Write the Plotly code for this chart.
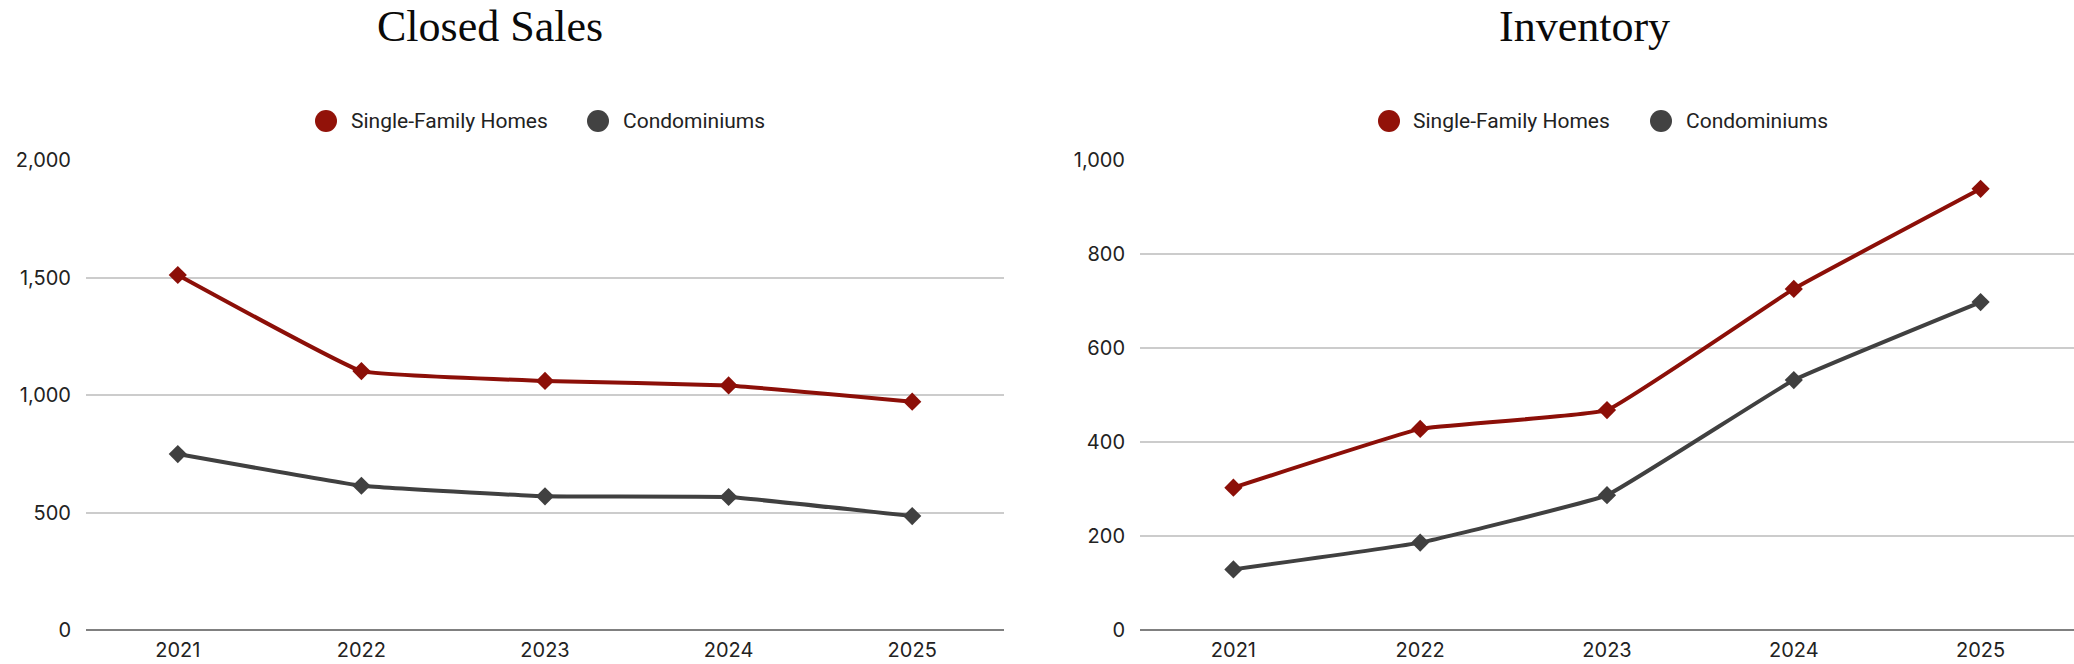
import plotly.graph_objects as go

years = ["2021", "2022", "2023", "2024", "2025"]
closed_sfh = [1511, 1102, 1060, 1041, 972]
closed_condo = [749, 614, 569, 566, 485]
inv_sfh = [303, 428, 468, 726, 939]
inv_condo = [129, 186, 287, 532, 698]
series_names = ["Single-Family Homes", "Condominiums"]
titles = ["Closed Sales", "Inventory"]

W, H = 2074, 664
RED = "#8c0f08"
GRAY = "#404040"
RED_LEG = "#921209"
GRAY_LEG = "#424242"
TICK_FONT = dict(family="Inter, Roboto, sans-serif", size=20, color="#222222")

def px(x):
    return x / W

def py(y):
    return 1 - y / H

fig = go.Figure()

def add_series(xax, yax, vals, color, name):
    fig.add_trace(go.Scatter(
        x=years, y=vals, name=name, xaxis=xax, yaxis=yax,
        mode="lines+markers",
        line=dict(color=color, width=4, shape="spline", smoothing=0.25),
        marker=dict(symbol="diamond", size=14, color=color),
        showlegend=False, hoverinfo="x+y+name",
    ))

add_series("x", "y", closed_sfh, RED, series_names[0])
add_series("x", "y", closed_condo, GRAY, series_names[1])
add_series("x2", "y2", inv_sfh, RED, series_names[0])
add_series("x2", "y2", inv_condo, GRAY, series_names[1])

ydom = [py(630), py(160)]
axis_common = dict(showgrid=False, zeroline=False, showline=False, ticks="",
                   tickfont=TICK_FONT, type="category", fixedrange=True,
                   ticklabelstandoff=6, automargin=False)
yaxis_common = dict(showgrid=True, gridcolor="#cccccc", gridwidth=1.5,
                    zeroline=True, zerolinecolor="#808080", zerolinewidth=1.5,
                    showline=False, ticks="", tickfont=TICK_FONT,
                    tickformat=",", fixedrange=True, ticklabelstandoff=14,
                    automargin=False)

fig.update_layout(
    width=W, height=H, autosize=False,
    margin=dict(l=0, r=0, t=0, b=0, pad=0, autoexpand=False),
    paper_bgcolor="white", plot_bgcolor="white",
    xaxis=dict(domain=[px(86), px(1004)], anchor="y", range=[-0.5, 4.5], **axis_common),
    xaxis2=dict(domain=[px(1140), 1.0], anchor="y2", range=[-0.5, 4.5], **axis_common),
    yaxis=dict(domain=ydom, anchor="x", range=[0, 2000.5], dtick=500, **yaxis_common),
    yaxis2=dict(domain=ydom, anchor="x2", range=[0, 1000.3], dtick=200, **yaxis_common),
    showlegend=False,
)

# titles
for text, cx in zip(titles, [490, 1584]):
    fig.add_annotation(text=text, x=px(cx), y=py(27), xref="paper", yref="paper",
                       xanchor="center", yanchor="middle", showarrow=False,
                       font=dict(family="Liberation Serif, serif", size=44, color="#0a0a0a"))

# legends (manual, large circular swatches)
legend_items = [
    (326, 349, series_names[0], RED_LEG),
    (598, 621, series_names[1], GRAY_LEG),
    (1389, 1411, series_names[0], RED_LEG),
    (1661, 1684, series_names[1], GRAY_LEG),
]
LEG_Y = 121
R = 11
for cx, tx, text, col in legend_items:
    fig.add_shape(type="circle", xref="paper", yref="paper",
                  x0=px(cx - R), x1=px(cx + R), y0=py(LEG_Y + R), y1=py(LEG_Y - R),
                  fillcolor=col, line=dict(width=0))
    fig.add_annotation(text=text, x=px(tx), y=py(LEG_Y), xref="paper", yref="paper",
                       xanchor="left", yanchor="middle", showarrow=False,
                       font=dict(family="Roboto, sans-serif", size=21, color="#222222"))

fig.write_html("out.html", config={"displayModeBar": False},
               post_script="document.body.style.margin='0';")
